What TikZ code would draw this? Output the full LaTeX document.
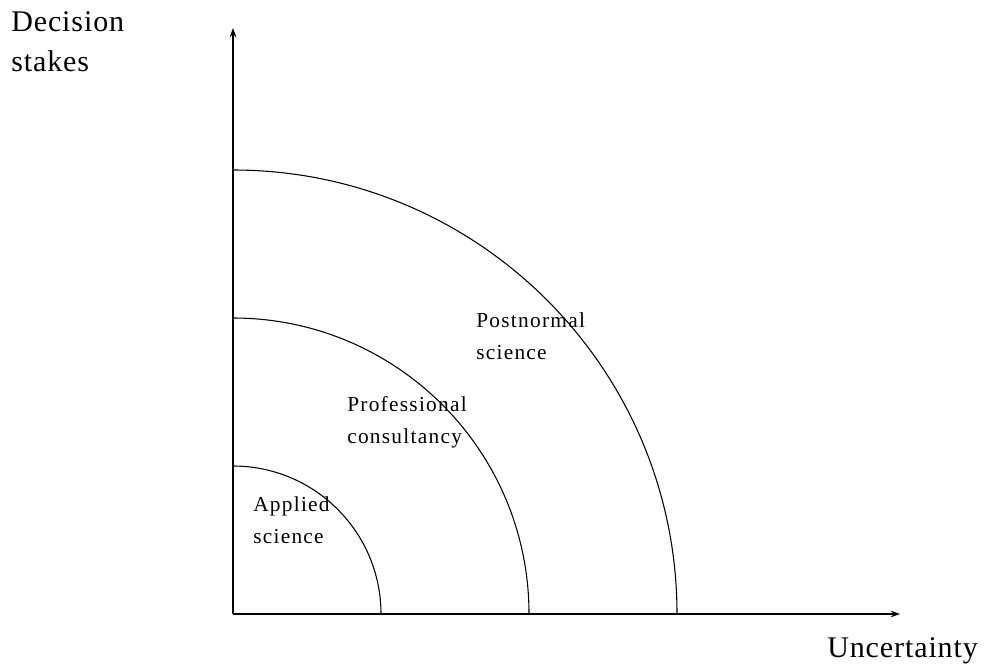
\documentclass[tikz,border=0pt]{standalone}
\usepackage{fontspec}
\setmainfont{Liberation Serif}
\newfontfamily\lblfont[LetterSpace=6]{Liberation Serif}
\newfontfamily\bigfont[LetterSpace=3]{Liberation Serif}
\usetikzlibrary{arrows.meta}
\tikzset{
  axis/.style={line width=1.1pt, -{Stealth[length=7pt,width=5pt]}},
  ring/.style={line width=0.8pt},
  biglbl/.style={anchor=base west, inner sep=0pt, font=\bigfont\fontsize{22.5}{30}\selectfont, align=left},
  smalllbl/.style={anchor=base west, inner sep=0pt, font=\lblfont\fontsize{16}{23.5}\selectfont, align=left}
}
\begin{document}
\begin{tikzpicture}[x=0.75pt,y=-0.75pt]
\useasboundingbox (0,0) rectangle (984,667);
\coordinate (O) at (233,614);
\coordinate (ytop) at (233,28);
\coordinate (xend) at (900,614);
\draw[axis] (O) -- (ytop);
\draw[axis] (O) -- (xend);
\draw[ring] (381,614) arc[start angle=0, end angle=90, radius=148*0.75pt];
\draw[ring] (529,614) arc[start angle=0, end angle=90, radius=296*0.75pt];
\draw[ring] (677,614) arc[start angle=0, end angle=90, radius=444*0.75pt];
\node[biglbl] (ds) at (11,72) {Decision\\stakes};
\node[biglbl] (unc) at (827,657) {Uncertainty};
\node[smalllbl] (app) at (253,543) {Applied\\science};
\node[smalllbl] (pro) at (347,443) {Professional\\consultancy};
\node[smalllbl] (post) at (476,359) {Postnormal\\science};
\end{tikzpicture}
\end{document}
